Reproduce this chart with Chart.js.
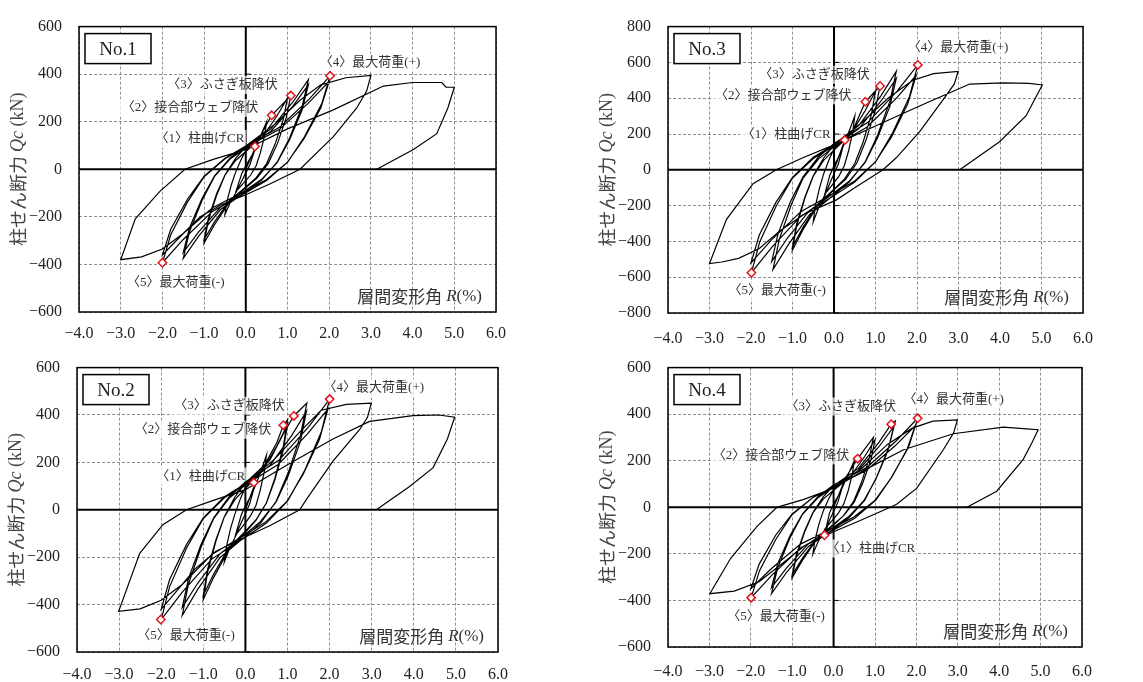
<!DOCTYPE html>
<html><head><meta charset="utf-8">
<script src="https://cdn.jsdelivr.net/npm/chart.js@4/dist/chart.umd.min.js"></script>
<style>
html,body{margin:0;padding:0;background:#fff;width:1143px;height:682px;overflow:hidden;position:relative}
canvas{position:absolute}
</style></head><body>
<canvas id="c1" width="570" height="345" style="left:0;top:0;width:570px;height:345px"></canvas>
<canvas id="c3" width="573" height="345" style="left:570px;top:0;width:573px;height:345px"></canvas>
<canvas id="c2" width="570" height="341" style="left:0;top:341px;width:570px;height:341px"></canvas>
<canvas id="c4" width="573" height="341" style="left:570px;top:341px;width:573px;height:341px"></canvas>
<script>
// ---------- tick labels ----------
const xTickValues = [-4,-3,-2,-1,0,1,2,3,4,5,6];
const xTickLabels = ['−4.0','−3.0','−2.0','−1.0','0.0','1.0','2.0','3.0','4.0','5.0','6.0'];
const yTickValues600 = [-600,-400,-200,0,200,400,600];
const yTickLabels600 = ['−600','−400','−200','0','200','400','600'];
const yTickValues800 = [-800,-600,-400,-200,0,200,400,600,800];
const yTickLabels800 = ['−800','−600','−400','−200','0','200','400','600','800'];
const markLabels = ['〈1〉柱曲げCR','〈2〉接合部ウェブ降伏','〈3〉ふさぎ板降伏','〈4〉最大荷重(+)','〈5〉最大荷重(-)'];
const xTitle = ['層間変形角 ','R','(%)'];
const yTitle = ['柱せん断力 ','Qc',' (kN)'];

// ---------- No.1 : [R(%), Qc(kN)] ----------
const no1Curve = [
[0,0],[0.12,48],[0.25,100],
[0.1,20],[0,-15],[-0.1,-50],[-0.25,-100],
[-0.1,-20],[0,15],[0.15,60],[0.3,120],[0.5,200],
[0.45,140],[0.35,70],[0.25,16],[0.12,-23],[0,-48],[-0.2,-86],[-0.38,-143],[-0.5,-190],
[-0.45,-133],[-0.35,-67],[-0.25,-15],[-0.12,38],[0,79],[0.35,140],[0.62,227],[1.08,310],
[0.97,217],[0.76,109],[0.54,25],[0.27,-37],[0,-78],[-0.4,-140],[-0.75,-233],[-1.0,-310],
[-0.9,-217],[-0.7,-109],[-0.5,-25],[-0.25,36],[0,75],[0.4,135],[0.75,225],[1.0,300],
[0.9,210],[0.7,105],[0.5,24],[0.25,-35],[0,-74],[-0.4,-133],[-0.75,-221],[-1.0,-295],
[-0.9,-207],[-0.7,-103],[-0.5,-24],[-0.25,45],[0,94],[0.6,170],[1.13,283],[1.5,377],
[1.35,264],[1.05,132],[0.75,30],[0.38,-45],[0,-94],[-0.6,-168],[-1.13,-281],[-1.5,-374],
[-1.35,-262],[-1.05,-131],[-0.75,-30],[-0.38,43],[0,89],[0.6,160],[1.13,266],[1.5,355],
[1.35,249],[1.05,124],[0.75,28],[0.38,-42],[0,-88],[-0.6,-158],[-1.13,-263],[-1.5,-350],
[-1.35,-245],[-1.05,-123],[-0.75,-28],[-0.38,47],[0,98],[0.81,177],[1.52,295],[2.02,393],
[1.82,275],[1.41,138],[1.01,31],[0.5,-47],[0,-98],[-0.8,-177],[-1.5,-295],[-2.0,-393],
[-1.8,-275],[-1.4,-138],[-1.0,-31],[-0.5,44],[0,93],[0.8,167],[1.5,278],[2.0,370],
[1.8,259],[1.4,130],[1.0,30],[0.5,-43],[0,-90],[-0.8,-162],[-1.5,-270],[-2.0,-360],
[-1.8,-252],[-1.4,-126],[-1.0,-29],[-0.5,46],[0,98],[0.7,190],[1.3,290],[1.8,355],[2.4,385],[3.0,395],
[2.9,330],[2.66,258],[2.1,137],[1.3,0],[0.6,-60],[0,-107],[-0.6,-150],[-1.1,-200],[-1.5,-270],[-2.0,-335],[-2.5,-368],[-3.0,-380],
[-2.65,-208],[-2.06,-93],[-1.46,0],[-0.78,42],[0,83],[1.0,170],[2.1,250],[3.3,350],[4.0,365],[4.7,365],[4.8,345],[5.0,345],
[4.85,260],[4.58,150],[4.02,83],[3.14,0]
];
const no1Marks = [[0.22,96],[0.62,227],[1.08,310],[2.02,393],[-2.0,-393]];

// ---------- No.2 ----------
const no2Curve = [
[0,0],[0.12,58],[0.25,120],
[0.1,24],[0,-17],[-0.1,-55],[-0.25,-115],
[-0.1,-23],[0,17],[0.15,65],[0.3,130],[0.5,230],
[0.45,161],[0.35,81],[0.25,18],[0.12,-26],[0,-55],[-0.2,-99],[-0.38,-165],[-0.5,-220],
[-0.45,-154],[-0.35,-77],[-0.25,-18],[-0.12,46],[0,95],[0.4,171],[0.75,285],[0.9,357],[1.0,380],
[0.9,266],[0.7,133],[0.5,30],[0.25,-45],[0,-95],[-0.4,-170],[-0.75,-284],[-1.0,-378],
[-0.9,-265],[-0.7,-132],[-0.5,-30],[-0.25,43],[0,90],[0.4,162],[0.75,270],[1.0,360],
[0.9,252],[0.7,126],[0.5,29],[0.25,-43],[0,-90],[-0.4,-162],[-0.75,-270],[-1.0,-360],
[-0.9,-252],[-0.7,-126],[-0.5,-29],[-0.25,54],[0,112],[0.58,210],[0.9,320],[1.15,396],[1.46,450],
[1.31,315],[1.02,158],[0.73,36],[0.37,-54],[0,-112],[-0.6,-201],[-1.13,-335],[-1.5,-446],
[-1.35,-312],[-1.05,-156],[-0.75,-36],[-0.38,50],[0,104],[0.58,187],[1.09,311],[1.45,415],
[1.31,291],[1.02,145],[0.73,33],[0.36,-49],[0,-103],[-0.6,-185],[-1.13,-309],[-1.5,-412],
[-1.35,-288],[-1.05,-144],[-0.75,-33],[-0.38,56],[0,117],[0.8,210],[1.5,350],[2.0,467],
[1.8,327],[1.4,163],[1.0,37],[0.5,-56],[0,-116],[-0.8,-208],[-1.5,-347],[-2.0,-463],
[-1.8,-324],[-1.4,-162],[-1.0,-37],[-0.5,51],[0,106],[0.78,191],[1.47,319],[1.96,425],
[1.76,298],[1.37,149],[0.98,34],[0.49,-50],[0,-105],[-0.8,-189],[-1.5,-315],[-2.0,-420],
[-1.8,-294],[-1.4,-147],[-1.0,-34],[-0.5,55],[0,110],[0.7,215],[1.3,330],[1.8,420],[2.4,445],[2.99,450],
[2.9,390],[2.72,340],[2.08,205],[1.45,44],[1.29,0],[0.6,-65],[0,-115],[-0.7,-175],[-1.2,-250],[-1.5,-315],[-2.0,-382],[-2.5,-418],[-3.01,-428],
[-2.51,-184],[-1.96,-63],[-1.4,0],[-0.69,44],[0,85],[1.0,190],[2.08,299],[2.95,373],[3.98,397],[4.6,400],[4.97,391],
[4.8,300],[4.46,178],[3.9,98],[3.11,0]
];
const no2Marks = [[0.2,115],[0.9,357],[1.15,396],[2.0,467],[-2.01,-463]];

// ---------- No.3 ----------
const no3Curve = [
[0,0],[0.13,83],[0.26,166],
[0.1,30],[0,-22],[-0.1,-75],[-0.25,-160],
[-0.1,-30],[0,22],[0.15,90],[0.3,175],[0.5,300],
[0.45,210],[0.35,105],[0.25,24],[0.12,-35],[0,-72],[-0.2,-130],[-0.38,-218],[-0.5,-290],
[-0.45,-203],[-0.35,-102],[-0.25,-23],[-0.12,56],[0,118],[0.44,212],[0.755,380],[1.11,468],
[0.99,329],[0.77,165],[0.55,38],[0.28,-54],[0,-112],[-0.4,-202],[-0.75,-336],[-1.0,-448],
[-0.9,-314],[-0.7,-157],[-0.5,-36],[-0.25,53],[0,110],[0.4,198],[0.75,330],[1.0,440],
[0.9,308],[0.7,154],[0.5,35],[0.25,-52],[0,-108],[-0.4,-194],[-0.75,-323],[-1.0,-430],
[-0.9,-301],[-0.7,-151],[-0.5,-34],[-0.25,66],[0,138],[0.6,248],[1.13,413],[1.5,550],
[1.35,385],[1.05,193],[0.75,44],[0.37,-67],[0,-139],[-0.59,-251],[-1.1,-418],[-1.47,-557],
[-1.32,-390],[-1.03,-195],[-0.74,-45],[-0.37,61],[0,128],[0.6,230],[1.13,383],[1.5,510],
[1.35,357],[1.05,179],[0.75,41],[0.38,-61],[0,-128],[-0.6,-230],[-1.13,-384],[-1.5,-512],
[-1.35,-358],[-1.05,-179],[-0.75,-41],[-0.38,70],[0,147],[0.81,264],[1.52,440],[2.02,586],
[1.82,410],[1.41,205],[1.01,47],[0.5,-69],[0,-144],[-0.8,-259],[-1.49,-431],[-1.99,-575],
[-1.79,-403],[-1.39,-201],[-1.0,-46],[-0.5,63],[0,132],[0.79,238],[1.49,396],[1.98,528],
[1.78,370],[1.39,185],[0.99,42],[0.5,-62],[0,-130],[-0.8,-234],[-1.5,-390],[-2.0,-520],
[-1.8,-364],[-1.4,-182],[-1.0,-42],[-0.5,70],[0,140],[0.7,270],[1.3,400],[1.9,500],[2.4,537],[2.99,550],
[2.9,480],[2.63,392],[2.06,212],[1.5,67],[1.18,0],[0.5,-100],[0.06,-168],[-0.7,-245],[-1.3,-340],[-1.8,-440],[-2.3,-495],[-2.7,-515],[-3.0,-524],
[-2.59,-277],[-1.95,-78],[-1.39,0],[-0.75,67],[0,139],[1.0,245],[2.06,356],[3.27,479],[4.07,486],[4.7,483],[5.02,474],
[4.85,400],[4.63,302],[3.99,157],[3.03,0]
];
const no3Marks = [[0.26,166],[0.755,380],[1.11,468],[2.02,586],[-1.99,-575]];

// ---------- No.4 ----------
const no4Curve = [
[0,0],[0.12,52],[0.25,110],
[0.1,20],[0,-18],[-0.1,-55],[-0.22,-120],
[-0.1,-25],[0,15],[0.15,60],[0.3,120],[0.5,200],
[0.45,140],[0.35,70],[0.25,16],[0.12,-24],[0,-50],[-0.2,-90],[-0.38,-150],[-0.5,-200],
[-0.45,-140],[-0.35,-70],[-0.25,-16],[-0.12,36],[0,75],[0.3,130],[0.58,209],[0.96,300],
[0.86,210],[0.67,105],[0.48,24],[0.24,-36],[0,-76],[-0.4,-136],[-0.75,-227],[-1.0,-302],
[-0.9,-211],[-0.7,-106],[-0.5,-24],[-0.25,35],[0,73],[0.4,131],[0.75,218],[1.0,290],
[0.9,203],[0.7,102],[0.5,23],[0.25,-35],[0,-73],[-0.4,-131],[-0.75,-218],[-1.0,-290],
[-0.9,-203],[-0.7,-102],[-0.5,-23],[-0.25,45],[0,93],[0.6,167],[1.1,280],[1.39,357],[1.49,371],
[1.34,260],[1.04,130],[0.75,30],[0.37,-45],[0,-93],[-0.6,-167],[-1.13,-278],[-1.5,-371],
[-1.35,-260],[-1.05,-130],[-0.75,-30],[-0.38,41],[0,86],[0.58,155],[1.09,259],[1.45,345],
[1.31,242],[1.02,121],[0.73,28],[0.36,-41],[0,-86],[-0.6,-155],[-1.13,-259],[-1.5,-345],
[-1.35,-242],[-1.05,-121],[-0.75,-28],[-0.38,46],[0,96],[0.81,172],[1.52,287],[2.03,382],
[1.83,267],[1.42,134],[1.02,31],[0.51,-47],[0,-97],[-0.8,-175],[-1.49,-291],[-1.99,-388],
[-1.79,-272],[-1.39,-136],[-1.0,-31],[-0.5,42],[0,88],[0.79,158],[1.48,263],[1.97,350],
[1.77,245],[1.38,123],[0.99,28],[0.49,-42],[0,-88],[-0.8,-158],[-1.5,-263],[-2.0,-350],
[-1.8,-245],[-1.4,-120],[-1.0,-28],[-0.5,42],[0,85],[0.7,170],[1.3,270],[1.9,340],[2.4,370],[2.99,375],
[2.9,320],[2.65,247],[2.01,82],[1.53,14],[1.37,0],[0.6,-60],[0,-105],[-0.7,-165],[-1.3,-250],[-1.8,-320],[-2.4,-360],[-2.99,-371],
[-2.49,-220],[-1.85,-82],[-1.37,0],[-0.72,34],[0,82],[0.8,165],[1.69,247],[2.89,316],[4.1,344],[4.66,337],[4.94,333],
[4.8,280],[4.58,206],[3.94,69],[3.22,0]
];
const no4Marks = [[-0.22,-120],[0.58,209],[1.39,357],[2.03,382],[-1.99,-388]];

// ---------- panel layout ----------
const panels = [
  {id:'c1', name:'No.1', curve:no1Curve, marks:no1Marks, yMin:-600, yMax:600, yVals:yTickValues600, yLabs:yTickLabels600,
   w:570, h:345, area:[79,16,496,312], xPad:12,
   labelAt:[[-1.10,128],[-1.34,258],[-0.56,355],[2.98,449],[-1.68,-475]]},
  {id:'c3', name:'No.3', curve:no3Curve, marks:no3Marks, yMin:-800, yMax:800, yVals:yTickValues800, yLabs:yTickLabels800,
   w:573, h:345, area:[98,18,513,313], xPad:16,
   labelAt:[[-1.15,199],[-1.22,416],[-0.47,530],[2.99,682],[-1.37,-674]]},
  {id:'c2', name:'No.2', curve:no2Curve, marks:no2Marks, yMin:-600, yMax:600, yVals:yTickValues600, yLabs:yTickLabels600,
   w:570, h:341, area:[77,13,498,311], xPad:13,
   labelAt:[[-1.06,141],[-1.01,338],[-0.38,439],[3.05,515],[-1.41,-532]]},
  {id:'c4', name:'No.4', curve:no4Curve, marks:no4Marks, yMin:-600, yMax:600, yVals:yTickValues600, yLabs:yTickLabels600,
   w:573, h:341, area:[98,15,512,306], xPad:15,
   labelAt:[[0.90,-177],[-1.27,223],[0.17,433],[2.90,462],[-1.39,-470]]}
];

const SERIF = '"Liberation Serif","DejaVu Serif",serif';
const MIX = '"Liberation Serif","Noto Sans CJK JP",serif';
const JP = '"Noto Sans CJK JP",sans-serif';

function labelFor(vals, labs, v){
  for (let i=0;i<vals.length;i++) if (Math.abs(vals[i]-v)<1e-6) return labs[i];
  return '';
}

function drawSegments(ctx, segs, x, y, align){
  let total = 0;
  segs.forEach(s=>{ctx.font=s.f; s.w=ctx.measureText(s.t).width; total+=s.w;});
  let cx = align==='right' ? x-total : (align==='center' ? x-total/2 : x);
  ctx.textAlign='left'; ctx.textBaseline='middle';
  segs.forEach(s=>{ctx.font=s.f; ctx.fillText(s.t,cx,y); cx+=s.w;});
}

function makePlugin(p){
  return {
    id:'deco_'+p.id,
    beforeDatasetsDraw(chart){
      const {ctx, chartArea:a, scales:{x,y}} = chart;
      ctx.save();
      // zero axes
      ctx.strokeStyle='#000'; ctx.lineWidth=2; ctx.setLineDash([]);
      const x0 = x.getPixelForValue(0), y0 = y.getPixelForValue(0);
      ctx.beginPath(); ctx.moveTo(x0,a.top); ctx.lineTo(x0,a.bottom); ctx.stroke();
      ctx.beginPath(); ctx.moveTo(a.left,y0); ctx.lineTo(a.right,y0); ctx.stroke();
      ctx.lineWidth=1;
      p.yVals.forEach(v=>{const py=y.getPixelForValue(v); ctx.beginPath(); ctx.moveTo(x0,py); ctx.lineTo(x0+5,py); ctx.stroke();});
      // annotation labels
      ctx.font='13px '+MIX; ctx.textAlign='center'; ctx.textBaseline='middle';
      markLabels.forEach((t,i)=>{
        const px=x.getPixelForValue(p.labelAt[i][0]), py=y.getPixelForValue(p.labelAt[i][1]);
        const w=ctx.measureText(t).width;
        ctx.fillStyle='rgba(255,255,255,0.7)'; ctx.fillRect(px-w/2-2,py-9,w+4,18);
        ctx.fillStyle='#333'; ctx.fillText(t,px,py);
      });
      ctx.restore();
    },
    afterDraw(chart){
      const {ctx, chartArea:a} = chart;
      ctx.save();
      // frame
      ctx.strokeStyle='#000'; ctx.lineWidth=1.5; ctx.setLineDash([]);
      ctx.strokeRect(a.left,a.top,a.right-a.left,a.bottom-a.top);
      // specimen box
      const bx=a.left+6, by=a.top+7, bw=66, bh=30;
      ctx.fillStyle='#fff'; ctx.fillRect(bx,by,bw,bh);
      ctx.lineWidth=1.5; ctx.strokeRect(bx,by,bw,bh);
      ctx.fillStyle='#222'; ctx.font='19px '+SERIF; ctx.textAlign='center'; ctx.textBaseline='middle';
      ctx.fillText(p.name,bx+bw/2,by+bh/2+1);
      // x axis title inside plot
      ctx.fillStyle='#333';
      drawSegments(ctx,[{t:xTitle[0],f:'17px '+JP},{t:xTitle[1],f:'italic 17px '+SERIF},{t:xTitle[2],f:'17px '+SERIF}],
        a.right-14, a.bottom-15, 'right');
      // y axis title (rotated)
      ctx.translate(a.left-61,(a.top+a.bottom)/2);
      ctx.rotate(-Math.PI/2);
      ctx.fillStyle='#444';
      drawSegments(ctx,[{t:yTitle[0],f:'18px '+JP},{t:yTitle[1],f:'italic 18px '+SERIF},{t:yTitle[2],f:'18px '+SERIF}],0,0,'center');
      ctx.restore();
    }
  };
}

panels.forEach(p=>{
  const ctx = document.getElementById(p.id);
  new Chart(ctx,{
    type:'scatter',
    data:{datasets:[
      {data:p.curve.map(d=>({x:d[0],y:d[1]})), showLine:true, borderColor:'#000', borderWidth:1.2, pointRadius:0, tension:0, order:2},
      {data:p.marks.map(d=>({x:d[0],y:d[1]})), showLine:false, pointStyle:'rectRot', pointRadius:4.2,
       borderColor:'#e3141b', borderWidth:1.5, backgroundColor:'#fff', order:1}
    ]},
    options:{
      responsive:false, animation:false, events:[],
      layout:{padding:{left:0, top:p.area[1], right:p.w-p.area[2], bottom:0}},
      plugins:{legend:{display:false}, tooltip:{enabled:false}},
      scales:{
        x:{type:'linear', min:-4, max:6,
           afterFit(s){ s.height = p.h - p.area[3]; },
           ticks:{stepSize:1, padding:p.xPad, maxRotation:0, autoSkip:false, color:'#222', font:{family:SERIF, size:16},
                  callback:(v)=>labelFor(xTickValues,xTickLabels,v)},
           grid:{drawTicks:false, color:(c)=> (c.tick && Math.abs(c.tick.value)<1e-9) ? 'rgba(0,0,0,0)' : '#8f8f8f', lineWidth:1},
           border:{display:false, dash:[3,2]}},
        y:{type:'linear', min:p.yMin, max:p.yMax,
           afterFit(s){ s.width = p.area[0]; },
           ticks:{stepSize:200, padding:17, autoSkip:false, color:'#222', font:{family:SERIF, size:16},
                  callback:(v)=>labelFor(p.yVals,p.yLabs,v)},
           grid:{drawTicks:false, color:(c)=> (c.tick && Math.abs(c.tick.value)<1e-9) ? 'rgba(0,0,0,0)' : '#8f8f8f', lineWidth:1},
           border:{display:false, dash:[3,2]}}
      }
    },
    plugins:[makePlugin(p)]
  });
});
</script>
</body></html>
